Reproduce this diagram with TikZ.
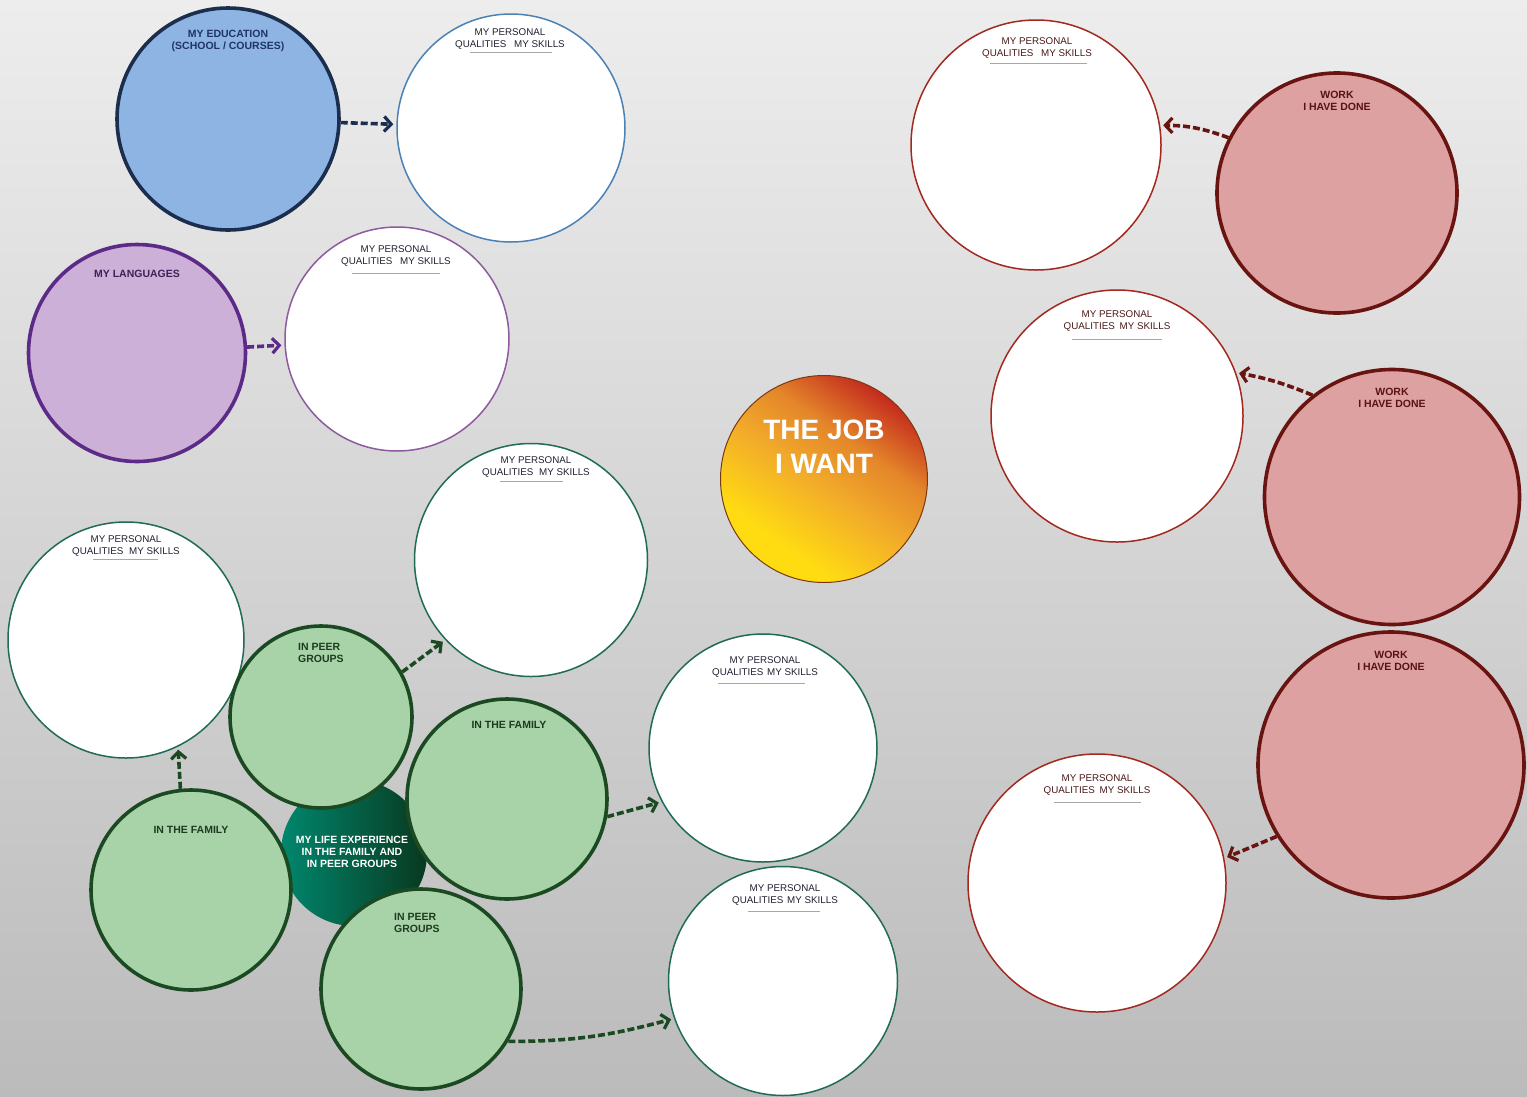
\documentclass[tikz,border=0pt]{standalone}
\usepackage{fontspec}
\setmainfont{Liberation Sans}
\usetikzlibrary{arrows.meta}
\definecolor{bgtop}{HTML}{EDEDED}
\definecolor{bgbot}{HTML}{BBBBBB}
\definecolor{edufill}{HTML}{8DB4E2}
\definecolor{eduedge}{HTML}{1C2E4E}
\definecolor{edutxt}{HTML}{1F3468}
\definecolor{langfill}{HTML}{CCB0D8}
\definecolor{langedge}{HTML}{5C2A87}
\definecolor{langtxt}{HTML}{3C2256}
\definecolor{workfill}{HTML}{DDA1A2}
\definecolor{workedge}{HTML}{6A1412}
\definecolor{worktxt}{HTML}{5A1212}
\definecolor{redpq}{HTML}{A3281F}
\definecolor{redpqtxt}{HTML}{4A1A1A}
\definecolor{greenfill}{HTML}{A8D3A8}
\definecolor{greenedge}{HTML}{1B4A22}
\definecolor{greentxt}{HTML}{1E3A20}
\definecolor{greenpq}{HTML}{1F6B55}
\definecolor{bluepq}{HTML}{4A82B5}
\definecolor{purplepq}{HTML}{8E5AA0}
\definecolor{pqtxtc}{HTML}{222233}
\definecolor{rulec}{HTML}{A8A8A8}
\definecolor{jobred}{HTML}{C42A1E}
\definecolor{joborange}{HTML}{E4862A}
\definecolor{jobmid}{HTML}{F2AC2A}
\definecolor{jobyel}{HTML}{FFDC12}
\definecolor{jobedge}{HTML}{7A3A10}
\definecolor{lifeL}{HTML}{00876E}
\definecolor{lifeR}{HTML}{08391F}
\pgfdeclareverticalshading{jobshade}{100bp}{color(0bp)=(jobyel); color(31bp)=(jobyel); color(48bp)=(jobmid); color(61bp)=(joborange); color(75bp)=(jobred); color(100bp)=(jobred)}
\begin{document}
\begin{tikzpicture}[x=1pt,y=-1pt,
  pq/.style={circle, draw=#1, line width=1.5pt, fill=white, inner sep=0pt},
  thick circ/.style={circle, line width=3.6pt, inner sep=0pt},
  pqlabel/.style={font=\fontsize{9.8}{12}\selectfont, align=center, anchor=base, inner sep=0pt, text=#1},
  blabel/.style={font=\bfseries\fontsize{10.5}{12}\selectfont, align=center, anchor=base, inner sep=0pt, text=#1},
  pqrule/.style={draw=rulec, line width=0.9pt},
  dasharr/.style={draw=#1, line width=3.6pt, dash pattern=on 7pt off 3pt,
     -{Straight Barb[length=7pt, width=15pt, line width=3.2pt]}, shorten >=3pt}
]
% background
\useasboundingbox (0,0) rectangle (1527,1096);
\shade[top color=bgtop, bottom color=bgbot] (0,0) rectangle (1527,1096);

% ---------- white "personal qualities" circles ----------
\node[pq=bluepq, minimum size=228pt] (pq1) at (511,128) {};
\node[pq=purplepq, minimum size=224pt] (pq2) at (397,339) {};
\node[pq=redpq, minimum size=250pt] (pqr1) at (1036,145) {};
\node[pq=redpq, minimum size=252pt] (pqr2) at (1117,416) {};
\node[pq=redpq, minimum size=258pt] (pqr3) at (1097,883) {};
\node[pq=greenpq, minimum size=236pt] (pqgl) at (126,640) {};
\node[pq=greenpq, minimum size=233pt] (pqgt) at (531,560) {};
\node[pq=greenpq, minimum size=228pt] (pqgm) at (763,748) {};
\node[pq=greenpq, minimum size=229pt] (pqgb) at (783,981) {};

% ---------- coloured source circles ----------
\node[thick circ, draw=eduedge, fill=edufill, minimum size=222pt] (edu) at (228,119) {};
\node[thick circ, draw=langedge, fill=langfill, minimum size=217pt] (lang) at (137,353) {};
\node[thick circ, draw=workedge, fill=workfill, minimum size=240pt] (w1) at (1337,193) {};
\node[thick circ, draw=workedge, fill=workfill, minimum size=255pt] (w2) at (1392,497) {};
\node[thick circ, draw=workedge, fill=workfill, minimum size=266pt] (w3) at (1391,765) {};

% ---------- central job circle ----------
\node[circle, inner sep=0pt, minimum size=207pt, draw=jobedge, line width=1pt,
      shading=jobshade, shading angle=-35] (job) at (824,479) {};

% ---------- green cluster ----------
\node[circle, inner sep=0pt, minimum size=146pt, left color=lifeL, right color=lifeR] (life) at (354,853) {};
\node[thick circ, draw=greenedge, fill=greenfill, minimum size=200pt] (faml) at (191,890) {};
\node[thick circ, draw=greenedge, fill=greenfill, minimum size=182pt] (peert) at (321,717) {};
\node[thick circ, draw=greenedge, fill=greenfill, minimum size=200pt] (famr) at (507,799) {};
\node[thick circ, draw=greenedge, fill=greenfill, minimum size=200pt] (peerb) at (421,989) {};

% ---------- texts (base anchor = baseline of last line) ----------
\node[blabel=edutxt] (edut) at (228,49) {MY EDUCATION\\(SCHOOL / COURSES)};
\node[blabel=langtxt] (langt) at (137,277) {MY LANGUAGES};
\node[blabel=worktxt] (w1t) at (1337,110) {WORK\\I HAVE DONE};
\node[blabel=worktxt] (w2t) at (1392,407) {WORK\\I HAVE DONE};
\node[blabel=worktxt] (w3t) at (1391,670) {WORK\\I HAVE DONE};
\node[font=\bfseries\fontsize{28}{34}\selectfont, align=center, anchor=base, inner sep=0pt, text=white] (jobt) at (824,473) {THE JOB\\I WANT};
\node[blabel=white] (lifet) at (352,867) {MY LIFE EXPERIENCE\\IN THE FAMILY AND\\IN PEER GROUPS};
\node[blabel=greentxt, align=left, anchor=base west] (peertt) at (298,662) {IN PEER\\GROUPS};
\node[blabel=greentxt, align=left, anchor=base west] (peerbt) at (394,932) {IN PEER\\GROUPS};
\node[blabel=greentxt] (famrt) at (509,728) {IN THE FAMILY};
\node[blabel=greentxt] (famlt) at (191,833) {IN THE FAMILY};

\node[pqlabel=pqtxtc] (pq1t) at (510,47) {MY PERSONAL\\QUALITIES\hspace{5pt} MY SKILLS};
\draw[pqrule] (470,52) -- (552,52);
\node[pqlabel=pqtxtc] (pq2t) at (396,264) {MY PERSONAL\\QUALITIES\hspace{5pt} MY SKILLS};
\draw[pqrule] (352,273) -- (440,273);
\node[pqlabel=redpqtxt] (pqr1t) at (1037,56) {MY PERSONAL\\QUALITIES\hspace{5pt} MY SKILLS};
\draw[pqrule] (990,63) -- (1087,63);
\node[pqlabel=redpqtxt] (pqr2t) at (1117,329) {MY PERSONAL\\QUALITIES\hspace{2pt} MY SKILLS};
\draw[pqrule] (1072,339) -- (1162,339);
\node[pqlabel=redpqtxt] (pqr3t) at (1097,793) {MY PERSONAL\\QUALITIES\hspace{2pt} MY SKILLS};
\draw[pqrule] (1054,802) -- (1141,802);
\node[pqlabel=pqtxtc] (pqglt) at (126,554) {MY PERSONAL\\QUALITIES\hspace{3pt} MY SKILLS};
\draw[pqrule] (93,559) -- (158,559);
\node[pqlabel=pqtxtc] (pqgtt) at (536,475) {MY PERSONAL\\QUALITIES\hspace{3pt} MY SKILLS};
\draw[pqrule] (500,481) -- (563,481);
\node[pqlabel=pqtxtc] (pqgmt) at (765,675) {MY PERSONAL\\QUALITIES\hspace{1pt} MY SKILLS};
\draw[pqrule] (718,683) -- (805,683);
\node[pqlabel=pqtxtc] (pqgbt) at (785,903) {MY PERSONAL\\QUALITIES\hspace{1pt} MY SKILLS};
\draw[pqrule] (748,911) -- (820,911);

% ---------- connectors ----------
\draw[dasharr=eduedge] (edu) -- (pq1);
\draw[dasharr=langedge] (lang) -- (pq2);
\draw[dasharr=workedge] (w1.153) to[bend right=10] (pqr1.9);
\draw[dasharr=workedge] (w2.128) to[bend right=6] (pqr2.20);
\draw[dasharr=workedge] (w3.212) -- (pqr3.11);
\draw[dasharr=greenedge] (peert.29) -- (pqgt.223);
\draw[dasharr=greenedge] (faml.96) -- (pqgl.296);
\draw[dasharr=greenedge] (famr.-10) -- (pqgm.208);
\draw[dasharr=greenedge] (peerb.-31) to[out=0, in=195] (pqgb.199);
\end{tikzpicture}
\end{document}
